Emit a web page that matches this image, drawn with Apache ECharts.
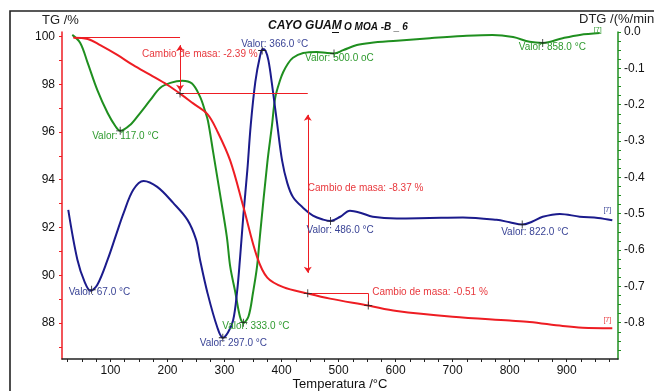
<!DOCTYPE html>
<html><head><meta charset="utf-8">
<script src="https://cdn.jsdelivr.net/npm/echarts@6/dist/echarts.min.js"></script>
<style>html,body{margin:0;padding:0;background:#fff}#c{width:654px;height:391px}</style>
</head><body><div id="c"></div>
<script>
// ---- data ----
// TG curve (red, left axis, %)
const tgT = [35, 60, 82, 112, 140, 170, 200, 222, 245, 270, 287, 310, 333, 357, 375, 403, 445, 485, 552, 602, 700, 800, 835, 893, 928, 980];
const tgV = [99.95, 99.9, 99.64, 99.23, 98.8, 98.39, 97.97, 97.61, 97.2, 96.75, 96.05, 94.8, 92.87, 90.77, 89.9, 89.5, 89.24, 89.02, 88.73, 88.5, 88.26, 88.1, 88.04, 87.87, 87.8, 87.78];
// DTG curve (green, right axis, %/min)
const dtgT = [33, 47, 60, 77, 95, 109, 117, 135, 152, 170, 187, 205, 226, 243, 257, 266, 271, 280, 292, 304, 310, 319, 327, 333, 342, 350, 357, 362, 375, 383, 389, 398, 403, 410, 420, 438, 462, 480, 492, 508, 532, 555, 602, 660, 718, 770, 806, 835, 858, 893, 923, 958];
const dtgV = [-0.008, -0.03, -0.085, -0.16, -0.223, -0.26, -0.272, -0.255, -0.223, -0.187, -0.154, -0.14, -0.134, -0.142, -0.178, -0.218, -0.245, -0.33, -0.445, -0.563, -0.646, -0.717, -0.783, -0.8, -0.783, -0.717, -0.646, -0.563, -0.36, -0.26, -0.18, -0.13, -0.11, -0.09, -0.071, -0.058, -0.055, -0.058, -0.059, -0.05, -0.036, -0.03, -0.024, -0.017, -0.011, -0.008, -0.014, -0.027, -0.03, -0.017, -0.008, -0.003];
// third signal (blue, no axis of its own; drawn on the TG scale)
const sigT = [26, 42, 55, 65, 77, 95, 110, 123, 140, 158, 182, 210, 235, 250, 257, 270, 287, 297, 306, 315, 322, 327, 333, 340, 346, 354, 362, 367, 372, 377, 383, 392, 401, 410, 420, 438, 455, 473, 486, 503, 520, 538, 560, 602, 660, 718, 777, 800, 822, 840, 858, 888, 923, 955, 980];
const sigV = [92.74, 90.65, 89.7, 89.35, 89.6, 90.65, 91.7, 92.6, 93.58, 93.95, 93.7, 93.03, 92.32, 91.5, 90.65, 89.27, 87.84, 87.38, 87.6, 88.1, 89.3, 90.65, 92.5, 94.4, 96.3, 98.1, 99.15, 99.48, 99.4, 99.0, 98.05, 96.4, 94.8, 93.87, 93.28, 92.82, 92.5, 92.33, 92.27, 92.45, 92.7, 92.62, 92.45, 92.38, 92.4, 92.42, 92.32, 92.22, 92.12, 92.25, 92.45, 92.57, 92.45, 92.4, 92.3];
// tick labels
const xTickLabels = [100, 200, 300, 400, 500, 600, 700, 800, 900];
const tgTickLabels = [88, 90, 92, 94, 96, 98, 100];
const dtgTickLabels = [0, -0.1, -0.2, -0.3, -0.4, -0.5, -0.6, -0.7, -0.8];
// mass-change steps (temperature, TG level)
const stepT = [222, 446, 552];
const stepV = [97.61, 89.24, 88.73];
const stepText = ['Cambio de masa: -2.39 %', 'Cambio de masa: -8.37 %', 'Cambio de masa: -0.51 %'];
// peak markers (label temperature, marker temperature)
const greenPeakT = [117, 333, 500, 858];
const greenMarkT = [117, 333, 492, 858];
const bluePeakT = [67, 297, 366, 486, 822];

// ---- helpers ----
const zip = (a, b) => a.map((v, i) => [v, b[i]]);
const valAt = (T, V, t) => {
  const k = T.indexOf(t);
  if (k >= 0) return V[k];
  for (let i = 0; i < T.length - 1; i++) if (t >= T[i] && t <= T[i + 1]) return V[i] + (V[i + 1] - V[i]) * (t - T[i]) / (T[i + 1] - T[i]);
  return V[V.length - 1];
};
const FONT = 'Liberation Sans, Arial, sans-serif';
const RED = '#ee1d23', GREEN = '#1f8f1f', BLUE = '#1b1b8c';
const RED_T = '#e8383d', GREEN_T = '#2f9a2f', BLUE_T = '#3a4496';
const CROSS = 'path://M4.5,0h1v4.5h4.5v1h-4.5v4.5h-1v-4.5h-4.5v-1h4.5z';
const HIDDEN = { symbol: 'rect', symbolSize: 1, itemStyle: { color: 'rgba(0,0,0,0)' } };
const range = (a, b, s) => { const r = []; for (let v = a; v <= b + 1e-9; v += s) r.push(Math.round(v * 1000) / 1000); return r; };

function lbl(text, color, dx, dy, size) {
  return { show: true, position: 'inside', align: 'left', verticalAlign: 'middle', offset: [dx, dy],
    formatter: text, color: color, fontSize: size || 10, fontFamily: FONT };
}
function endLbl(color, off) {
  return { show: true, position: 'inside', align: 'center', verticalAlign: 'middle', offset: off,
    formatter: '[7]', color: color, fontSize: 7, fontFamily: FONT };
}

const greenOff = [[-28, 5], [-21, 4], [-29, 5], [-24, 4]];
const blueOff = [[-23, 3], [-23, 5], [-21, -6], [-24, 9], [-21, 8]];

const greenMarks = greenPeakT.map((t, i) => ({
  coord: [greenMarkT[i], valAt(dtgT, dtgV, greenMarkT[i])], symbol: CROSS, symbolSize: 8,
  label: lbl('Valor: ' + t.toFixed(1) + (t === 500 ? ' oC' : ' °C'), GREEN_T, greenOff[i][0], greenOff[i][1])
}));
greenMarks.push(Object.assign({ coord: [dtgT[dtgT.length - 1], dtgV[dtgV.length - 1]] }, HIDDEN, { label: endLbl(GREEN_T, [-2, -3]) }));

const blueMarks = bluePeakT.map((t, i) => ({
  coord: [t, valAt(sigT, sigV, t)], symbol: CROSS, symbolSize: 8,
  label: lbl('Valor: ' + t.toFixed(1) + ' °C', BLUE_T, blueOff[i][0], blueOff[i][1])
}));
blueMarks.push(Object.assign({ coord: [sigT[sigT.length - 1], sigV[sigV.length - 1]] }, HIDDEN, { label: endLbl(BLUE_T, [-5, -10]) }));

const stepOff = [[-38, -39], [0, -105], [4, -13]];
const redMarks = stepT.map((t, i) => ({
  coord: [t, stepV[i]], symbol: CROSS, symbolSize: 8,
  label: lbl(stepText[i], RED_T, stepOff[i][0], stepOff[i][1], 10)
}));
redMarks.push(Object.assign({ coord: [tgT[tgT.length - 1], tgV[tgV.length - 1]] }, HIDDEN, { label: endLbl(RED_T, [-5, -8]) }));

const ln = (a, b, arrows) => [
  { coord: a, symbol: arrows ? 'arrow' : 'none' },
  { coord: b, symbol: arrows ? 'arrow' : 'none' }
];
const redLines = [
  ln([tgT[0], tgV[0]], [stepT[0], tgV[0]]),
  ln([stepT[0], 99.64], [stepT[0], 97.73], true),
  ln([stepT[0], stepV[0]], [stepT[1], stepV[0]]),
  ln([stepT[1], 96.72], [stepT[1], 90.1], true),
  ln([stepT[1], stepV[1]], [stepT[2], stepV[1]]),
  ln([stepT[2], stepV[1]], [stepT[2], stepV[2]])
];

const chart = echarts.init(document.getElementById('c'), null, { renderer: 'canvas' });
const yMin = 86.49, yMax = 100.19;
chart.setOption({
  animation: false,
  backgroundColor: '#fff',
  textStyle: { fontFamily: FONT },
  grid: { left: 62, right: 36, top: 32, bottom: 32, containLabel: false, outerBoundsMode: 'none' },
  xAxis: {
    type: 'value', min: 15, max: 990,
    axisLine: { show: true, onZero: false, lineStyle: { color: '#222', width: 1.5 } },
    axisTick: { show: true, customValues: range(25, 975, 25), length: 3, lineStyle: { color: '#222' } },
    axisLabel: { customValues: xTickLabels, color: '#111', fontSize: 12, margin: 6, fontFamily: FONT },
    splitLine: { show: false }
  },
  yAxis: [
    {
      type: 'value', position: 'left', min: yMin, max: yMax,
      axisLine: { show: true, onZero: false, lineStyle: { color: RED, width: 1.5 } },
      axisTick: { show: true, customValues: range(87, 100, 1), length: 3, lineStyle: { color: RED } },
      axisLabel: { customValues: tgTickLabels, color: '#111', fontSize: 12, margin: 7, fontFamily: FONT },
      splitLine: { show: false }
    },
    {
      type: 'value', position: 'right', min: -0.9, max: 0,
      axisLine: { show: true, onZero: false, lineStyle: { color: GREEN, width: 1.5 } },
      axisTick: { show: true, customValues: range(-0.875, 0, 0.025), length: 3, lineStyle: { color: GREEN } },
      axisLabel: { customValues: dtgTickLabels, color: '#111', fontSize: 12, margin: 6, fontFamily: FONT,
        formatter: v => (Math.abs(v) < 1e-9 ? 0 : v).toFixed(1) },
      splitLine: { show: false }
    },
    { type: 'value', show: false, min: yMin, max: yMax }
  ],
  series: [
    {
      type: 'line', name: 'DTG', yAxisIndex: 1, data: zip(dtgT, dtgV), showSymbol: false, smooth: 0.35,
      lineStyle: { color: GREEN, width: 2 }, z: 3,
      markPoint: { data: greenMarks, itemStyle: { color: '#222' }, z: 10 }
    },
    {
      type: 'line', name: 'signal', yAxisIndex: 2, data: zip(sigT, sigV), showSymbol: false, smooth: 0.35,
      lineStyle: { color: BLUE, width: 2 }, z: 4,
      markPoint: { data: blueMarks, itemStyle: { color: '#222' }, z: 10 }
    },
    {
      type: 'line', name: 'TG', yAxisIndex: 0, data: zip(tgT, tgV), showSymbol: false, smooth: 0.35,
      lineStyle: { color: RED, width: 2 }, z: 5,
      markLine: { silent: true, symbolSize: 6, label: { show: false }, lineStyle: { color: RED, width: 1, type: 'solid' }, data: redLines },
      markPoint: { data: redMarks, itemStyle: { color: '#222' }, z: 10 }
    }
  ],
  graphic: [
    { type: 'rect', shape: { x: 10, y: 11, width: 800, height: 500 }, style: { fill: 'none', stroke: '#222', lineWidth: 1.6 }, z: 0 },
    { type: 'text', x: 268, y: 26, style: { text: 'CAYO GUAM', font: 'italic bold 12px ' + FONT, fill: '#111', textVerticalAlign: 'middle' } },
    { type: 'text', x: 344, y: 27, style: { text: 'O MOA -B _ 6', font: 'italic bold 10px ' + FONT, fill: '#111', textVerticalAlign: 'middle' } },
    { type: 'line', shape: { x1: 332, y1: 32.5, x2: 339, y2: 32.5 }, style: { stroke: '#111', lineWidth: 1 } },
    { type: 'text', x: 42, y: 20, style: { text: 'TG /%', font: '13px ' + FONT, fill: '#222', textVerticalAlign: 'middle' } },
    { type: 'text', x: 579, y: 19, style: { text: 'DTG /(%/min)', font: '13px ' + FONT, fill: '#222', textVerticalAlign: 'middle' } },
    { type: 'text', x: 340, y: 384, style: { text: 'Temperatura /°C', font: '13px ' + FONT, fill: '#111', textAlign: 'center', textVerticalAlign: 'middle' } }
  ]
});
</script></body></html>
